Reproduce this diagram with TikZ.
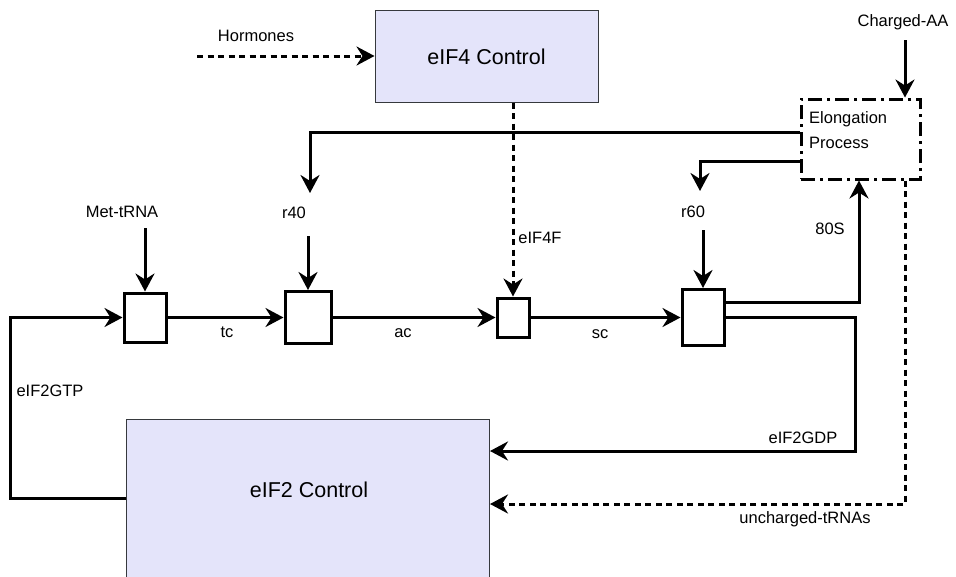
\documentclass[tikz,border=0pt]{standalone}
\usepackage{fontspec}
\setmainfont{Liberation Sans}
\usetikzlibrary{arrows.meta}
\definecolor{lav}{RGB}{228,228,250}
\definecolor{bord}{RGB}{54,57,61}
\begin{document}
\begin{tikzpicture}[x=1pt,y=-1pt,
  ctrl/.style={draw=bord, line width=1pt, fill=lav, inner sep=0pt},
  big/.style={font=\fontsize{21.5}{25}\selectfont, inner sep=0pt},
  sbox/.style={draw, line width=3pt, inner sep=0pt, fill=white},
  lbl/.style={font=\fontsize{16.5}{19}\selectfont, inner sep=0pt},
  arr/.style={line width=3pt, -{Stealth[length=18pt,width=19pt,inset=6pt]}},
  dsh/.style={dash pattern=on 6pt off 4.5pt},
  dashdot/.style={draw, line width=3pt, dash pattern=on 14pt off 5pt on 3pt off 5pt},
]
\useasboundingbox (0,0) rectangle (956,576);

% control boxes
\node[ctrl, minimum width=223pt, minimum height=92pt] (eif4) at (486.5,56) {};
\node[big] (eif4t) at (486.5,57) {eIF4 Control};
\node[ctrl, minimum width=363pt, minimum height=170pt, anchor=north west] (eif2) at (126,419) {};
\node[big] (eif2t) at (309,490) {eIF2 Control};

% elongation box
\node[dashdot, minimum width=119pt, minimum height=80pt, inner sep=0pt] (elong) at (860.5,139) {};
\node[lbl, anchor=west, align=left, font=\fontsize{16.5}{25}\selectfont] (elongt) at (809,130.5) {Elongation\\Process};

% small boxes
\node[sbox, minimum width=42pt, minimum height=49pt] (b1) at (145,317.5) {};
\node[sbox, minimum width=46pt, minimum height=52pt] (b2) at (308,317.5) {};
\node[sbox, minimum width=32pt, minimum height=39pt] (b3) at (513,317.5) {};
\node[sbox, minimum width=42pt, minimum height=56pt] (b4) at (703,317.5) {};

% labels
\node[lbl] (hormones) at (256,36) {Hormones};
\node[lbl] (charged) at (903,22) {Charged-AA};
\node[lbl] (mettrna) at (122,212) {Met-tRNA};
\node[lbl] (r40) at (294,213) {r40};
\node[lbl] (r60) at (693,212) {r60};
\node[lbl] (eif4f) at (540,238) {eIF4F};
\node[lbl] (tc) at (227,332) {tc};
\node[lbl] (ac) at (403,333) {ac};
\node[lbl] (sc) at (600,334) {sc};
\node[lbl] (s80) at (830,229) {80S};
\node[lbl] (gdp) at (803,438) {eIF2GDP};
\node[lbl] (unch) at (805,519) {uncharged-tRNAs};
\node[lbl] (gtp) at (50,391) {eIF2GTP};

% coordinates
\coordinate (hstart) at (197,56);
\coordinate (cstart) at (905,40);
\coordinate (mstart) at (145,228);
\coordinate (r40start) at (308,236);
\coordinate (r60start) at (703,230);
\coordinate (ya) at (0,132);
\coordinate (yb) at (0,161);
\coordinate (r40tip) at (310,193);
\coordinate (r60tip) at (700,191);
\coordinate (g1) at (855,451);
\coordinate (u1) at (905,504);
\coordinate (t1) at (10,498);
\coordinate (x80) at (859,0);

% connectors
\draw[arr,dsh] (hstart) -- (eif4.west);
\draw[arr,dsh] (eif4.south -| b3) -- (b3.north);
\draw[arr] (cstart) -- (elong.north -| cstart);
\draw[arr] (mstart) -- (b1.north);
\draw[arr] (r40start) -- (b2.north);
\draw[arr] (r60start) -- (b4.north);
\draw[arr] (b1.east) -- (b2.west);
\draw[arr] (b2.east) -- (b3.west);
\draw[arr] (b3.east) -- (b4.west);
\draw[arr] (elong.west |- ya) -| (r40tip);
\draw[arr] (elong.west |- yb) -| (r60tip);
\draw[arr] ([yshift=15.5pt]b4.east) -| (elong.south -| x80);
\draw[arr] (b4.east) -| (g1) -- (g1 -| eif2.east);
\draw[arr,dsh] (elong.south -| u1) -- (u1) -- (u1 -| eif2.east);
\draw[arr] (eif2.west |- t1) -- (t1) |- (b1.west);
\end{tikzpicture}
\end{document}
